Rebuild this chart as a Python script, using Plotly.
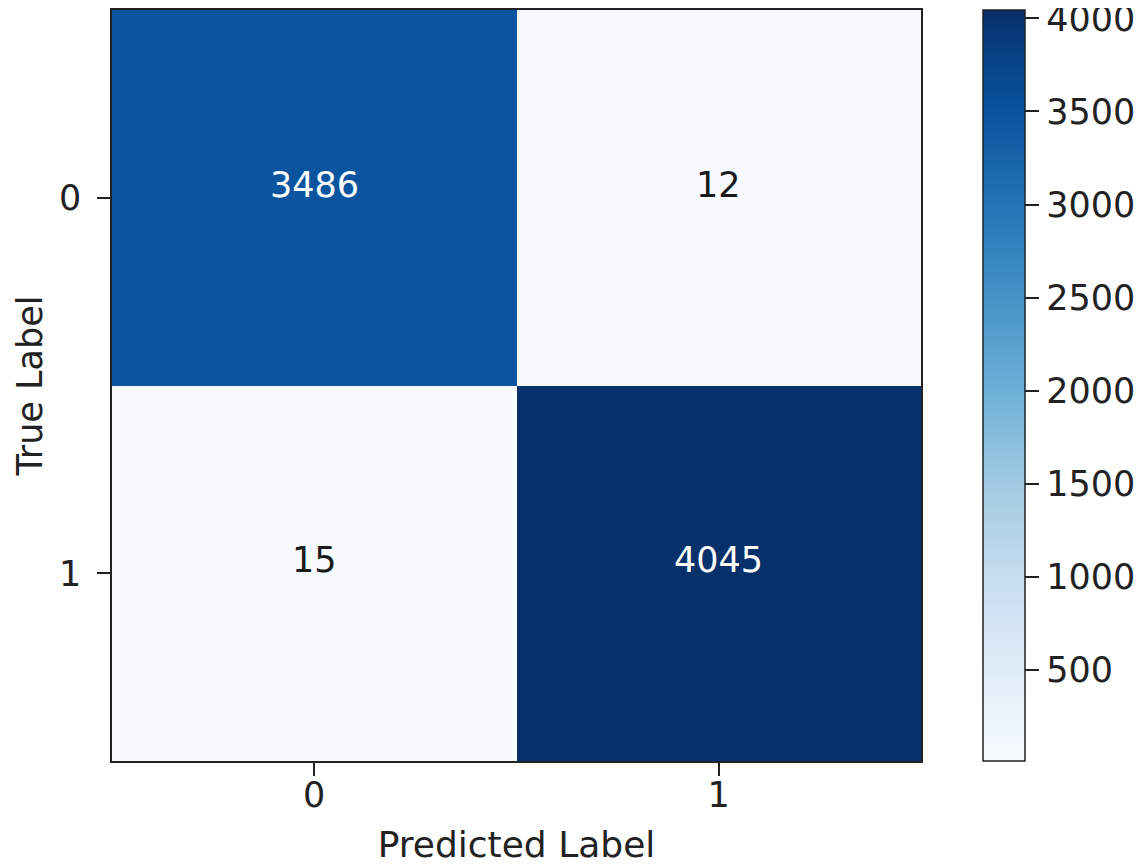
import plotly.graph_objects as go

# confusion matrix values
labels = ["0", "1"]
counts = [[3486, 12],
          [15, 4045]]
cbar_ticks = [500, 1000, 1500, 2000, 2500, 3000, 3500, 4000]

FONT = "DejaVu Sans"
z_min = min(min(r) for r in counts)
z_max = max(max(r) for r in counts)
thresh = (z_min + z_max) / 2.0

fig = go.Figure()
fig.add_trace(go.Heatmap(
    z=counts, x=labels, y=labels,
    colorscale="Blues", zmin=z_min, zmax=z_max,
    xgap=0, ygap=0, hoverinfo="z",
    colorbar=dict(
        x=1.0767, xanchor="left", xpad=0, y=0.5, yanchor="middle",
        len=1.0, lenmode="fraction", ypad=0,
        thickness=42, outlinewidth=1.5, outlinecolor="#222",
        tickvals=cbar_ticks, ticks="outside", ticklen=14, tickwidth=1.5,
        tickcolor="#222", ticklabeloverflow="allow",
        tickfont=dict(family=FONT, size=35, color="#222"),
    ),
))

# cell annotations, white text on dark cells
for i, row in enumerate(counts):
    for j, v in enumerate(row):
        fig.add_annotation(
            x=labels[j], y=labels[i], text=str(v), showarrow=False,
            yshift=13,
            font=dict(family=FONT, size=35,
                      color="white" if v > thresh else "#1a1a1a"),
        )

axis_common = dict(
    showline=True, linecolor="#222", linewidth=1.5, mirror=True,
    ticks="outside", ticklen=13, tickwidth=1.5, tickcolor="#222",
    tickfont=dict(family=FONT, size=35, color="#222"),
    showgrid=False, zeroline=False,
)

# page body has an 8px margin, so the figure is sized to fit inside it
fig.update_layout(
    width=1135, height=858,
    margin=dict(l=104, r=222, t=0, b=105),
    paper_bgcolor="white", plot_bgcolor="white",
    xaxis=dict(title=dict(text="Predicted Label", standoff=18,
                          font=dict(family=FONT, size=36, color="#222")),
               ticklabelstandoff=-11, **axis_common),
    yaxis=dict(title=dict(text="True Label", standoff=6,
                          font=dict(family=FONT, size=35, color="#222")),
               ticklabelstandoff=9, autorange="reversed", **axis_common),
)

fig.write_html("out.html")
